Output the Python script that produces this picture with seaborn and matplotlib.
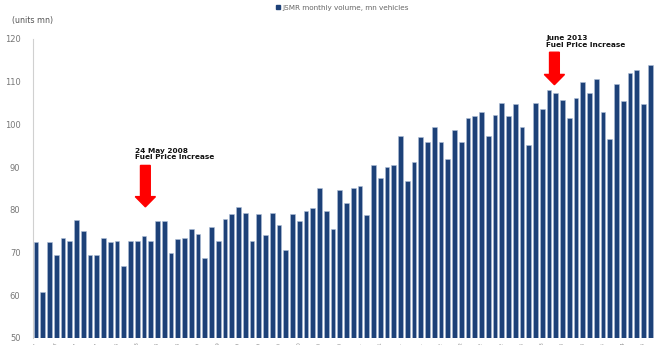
import matplotlib
matplotlib.use("Agg")
import matplotlib.pyplot as plt
import seaborn as sns
import pandas as pd
from matplotlib.patches import FancyArrow, Patch

# Monthly volume (mn vehicles), Feb 2007 - Sep 2014
months = pd.date_range("2007-02-01", periods=92, freq="MS").strftime("%b-%y").tolist()
volume = [
    72.4, 60.8, 72.4, 69.5, 73.5, 72.8, 77.7, 75.1, 69.4, 69.4,
    73.4, 72.4, 72.8, 66.9, 72.8, 72.8, 73.8, 72.6, 77.3, 77.3,
    69.9, 73.2, 73.5, 75.6, 74.3, 68.8, 76.1, 72.8, 77.8, 79.1,
    80.7, 79.3, 72.8, 79.1, 74.0, 79.3, 76.5, 70.7, 79.1, 77.5,
    79.8, 80.5, 85.0, 79.8, 75.4, 84.6, 81.7, 85.0, 85.7, 78.9,
    90.6, 87.5, 90.1, 90.4, 97.2, 86.7, 91.3, 97.0, 96.0, 99.3,
    95.8, 92.0, 98.8, 96.0, 101.6, 101.9, 102.8, 97.2, 102.3, 105.1,
    101.9, 104.7, 99.3, 95.1, 105.1, 103.5, 108.0, 107.3, 105.6, 101.6,
    106.1, 109.9, 107.3, 110.6, 103.0, 96.5, 109.4, 105.4, 112.0, 112.7,
    104.7, 113.8,
]
series_label = "JSMR monthly volume, mn vehicles"
yticks = [50, 60, 70, 80, 90, 100, 110, 120]

events = [
    {"label": "24 May 2008\nFuel Price Increase", "x": 16.2, "tip": 80.7, "tail": 90.4,
     "tx": 14.6, "ty": 91.6},
    {"label": "June 2013\nFuel Price Increase", "x": 76.8, "tip": 109.3, "tail": 116.9,
     "tx": 75.6, "ty": 118.0},
]

bar_color = "#1d4178"

sns.set_theme(style="white")
plt.rcParams["font.family"] = ["DejaVu Sans"]

fig = plt.figure(figsize=(6.65, 3.45), dpi=100)
ax = fig.add_axes([0.0496, 0.0203, 0.9384, 0.8667])

df = pd.DataFrame({"month": months, "volume": volume})
sns.barplot(data=df, x="month", y="volume", color=bar_color, width=0.68,
            saturation=1, ax=ax, edgecolor="#aebfd6", linewidth=0.4)

ax.set_ylim(50, 120)
ax.set_xlim(-0.45, 92)
ax.set_yticks(yticks)
ax.set_yticklabels([str(t) for t in yticks], fontsize=6, color="#777777")
ax.tick_params(axis="y", length=0, pad=9)
# quarterly month labels, set vertically under the bars
ax.set_xticks(range(0, len(months), 3))
ax.set_xticklabels(months[::3], fontsize=4.5, color="#999999", rotation=90)
ax.tick_params(axis="x", length=0, pad=2.5)
ax.set_xlabel("")
ax.set_ylabel("")

for side in ["top", "right", "bottom"]:
    ax.spines[side].set_visible(False)
ax.spines["left"].set_color("#d0d0d0")
ax.spines["left"].set_linewidth(0.8)

# Fuel price event markers
for ev in events:
    ax.add_patch(FancyArrow(ev["x"], ev["tail"], 0, ev["tip"] - ev["tail"],
                            width=1.45, head_width=3.0, head_length=2.4,
                            length_includes_head=True, color="#ff0000",
                            clip_on=False, zorder=5))
    ax.text(ev["tx"], ev["ty"], ev["label"], fontsize=5.3, fontweight="bold",
            ha="left", va="bottom", linespacing=1.15, color="#111111",
            clip_on=False)

fig.text(0.018, 0.94, "(units mn)", fontsize=5.8, color="#555555",
         ha="left", va="center")

fig.legend(handles=[Patch(facecolor=bar_color, edgecolor=bar_color, label=series_label)],
           loc="center", bbox_to_anchor=(0.515, 0.978), frameon=False,
           fontsize=5.2, handlelength=0.55, handleheight=0.55, handletextpad=0.4,
           labelcolor="#666666")

fig.savefig("out.png", dpi=100)
